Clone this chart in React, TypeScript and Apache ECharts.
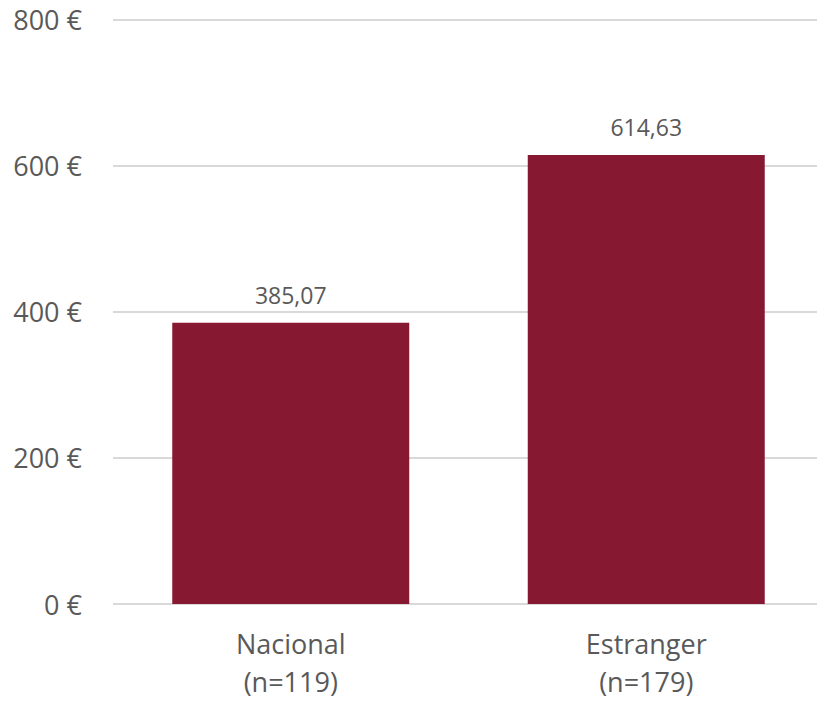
import React, { useEffect, useRef } from "react";
import * as echarts from "echarts";

const categories = ["Nacional\n(n=119)", "Estranger\n(n=179)"];
const values = [385.07, 614.63];
const yMin = 0;
const yMax = 800;
const yInterval = 200;

export default function App() {
  const ref = useRef<HTMLDivElement>(null);
  useEffect(() => {
    if (!ref.current) return;
    const chart = echarts.init(ref.current, null, { renderer: "svg" });
    chart.setOption({
      animation: false,
      backgroundColor: "#ffffff",
      textStyle: { fontFamily: "Open Sans" },
      grid: { left: 113, right: 6, top: 19.5, bottom: 98, containLabel: false },
      xAxis: {
        type: "category",
        data: categories,
        axisLine: { show: false },
        axisTick: { show: false },
        axisLabel: {
          color: "#595959",
          fontSize: 27,
          fontFamily: "Open Sans",
          lineHeight: 38,
          margin: 20,
        },
      },
      yAxis: {
        type: "value",
        min: yMin,
        max: yMax,
        interval: yInterval,
        axisLine: { show: false },
        axisTick: { show: false },
        splitLine: { lineStyle: { color: "#d9d9d9", width: 2 } },
        axisLabel: {
          color: "#595959",
          fontSize: 27,
          fontFamily: "Open Sans",
          margin: 31,
          formatter: (v: number) => `${v} €`,
        },
      },
      series: [
        {
          type: "bar",
          data: values,
          barWidth: 237,
          itemStyle: { color: "#861931" },
          label: {
            show: true,
            position: "top",
            distance: 16,
            color: "#595959",
            fontSize: 23,
            fontFamily: "Open Sans",
            formatter: (p: any) => p.value.toFixed(2).replace(".", ","),
          },
        },
      ],
    });
    return () => chart.dispose();
  }, []);
  return (
    <div
      style={{
        position: "fixed",
        left: 0,
        top: 0,
        width: 817,
        height: 702,
        overflow: "hidden",
        background: "#ffffff",
      }}
    >
      <div ref={ref} style={{ width: 830, height: 702 }} />
    </div>
  );
}
